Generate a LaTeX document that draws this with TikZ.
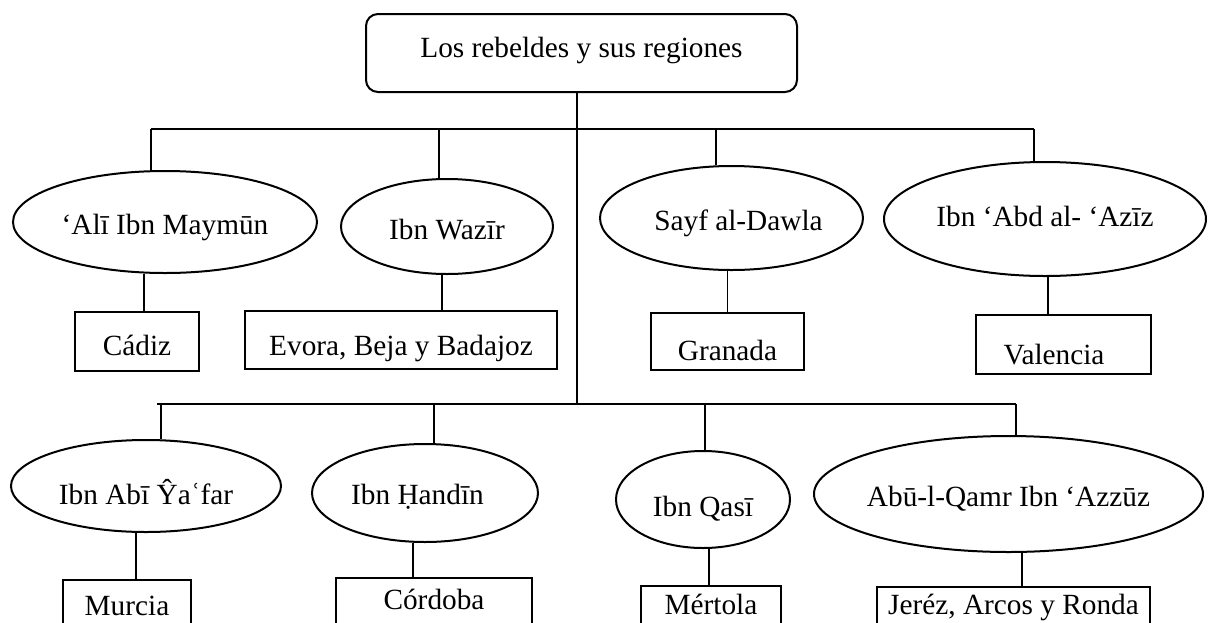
\documentclass[tikz,border=0pt]{standalone}
\usepackage{fontspec}
\setmainfont{Liberation Serif}
\usetikzlibrary{shapes.geometric}
\begin{document}
\begin{tikzpicture}[x=1pt,y=-1pt,
  font=\fontsize{29.3}{35}\selectfont,
  shapeline/.style={draw=black, line width=2pt},
  rootbox/.style={shapeline, rectangle, rounded corners=12pt, inner sep=0pt,
    text height=43pt, text depth=35pt, minimum width=431pt},
  rebel/.style={shapeline, ellipse, inner sep=0pt, text depth=0pt},
  region/.style={shapeline, rectangle, inner sep=0pt, anchor=base},
  link/.style={draw=black, line width=1.2pt},
]
\useasboundingbox (0,0) rectangle (1208,622);
\fill[white] (0,0) rectangle (1208,622);
\clip (0,0) rectangle (1208,622);

% title
\node[rootbox, anchor=base] (root) at (581.5,57) {Los rebeldes y sus regiones};

% first group of rebels
\node[rebel, minimum width=304pt, minimum height=102pt, text height=24.4pt] (e1) at (165,222) {‘Alī Ibn Maymūn};
\node[rebel, minimum width=212pt, minimum height=95pt, text height=25.4pt] (e2) at (447,226.5) {Ibn Wazīr};
\node[rebel, minimum width=263pt, minimum height=104pt, text height=25.4pt] (e3) at (731.5,218) {\hspace*{14pt}Sayf al-Dawla};
\node[rebel, minimum width=322pt, minimum height=114pt, text height=15.4pt] (e4) at (1045,219) {Ibn ‘Abd al- ‘Azīz};

\node[region, minimum width=124pt, text height=43pt, text depth=16pt] (cadiz) at (137,355) {Cádiz};
\node[region, minimum width=312pt, text height=44pt, text depth=14pt] (evora) at (401,355) {Evora, Beja y Badajoz};
\node[region, minimum width=153pt, text height=47pt, text depth=10pt] (granada) at (727.5,360) {Granada};
\node[region, minimum width=175pt, text height=49pt, text depth=10pt] (valencia) at (1063.5,364) {Valencia\hspace*{19pt}};

% second group of rebels
\node[rebel, minimum width=270pt, minimum height=92pt, text height=37.4pt] (e5) at (146,486) {Ibn Abī Ŷaʿfar};
\node[rebel, minimum width=226pt, minimum height=98pt, text height=22.4pt] (e6) at (425,493) {Ibn Ḥandīn\hspace*{15pt}};
\node[rebel, minimum width=174pt, minimum height=97pt, text height=34.8pt] (e7) at (703,499.5) {Ibn Qasī};
\node[rebel, minimum width=389pt, minimum height=116pt, text height=24.4pt, inner xsep=-6pt] (e8) at (1008.5,494) {Abū-l-Qamr Ibn ‘Azzūz};

\node[region, minimum width=128pt, text height=35pt, text depth=40pt] (murcia) at (127,615) {Murcia};
\node[region, minimum width=196pt, text height=31pt, text depth=40pt] (cordoba) at (434,609) {Córdoba};
\node[region, minimum width=140pt, text height=28pt, text depth=40pt] (mertola) at (711,614) {Mértola};
\node[region, minimum width=273pt, text height=27pt, text depth=40pt] (jerez) at (1013.5,614) {Jeréz, Arcos y Ronda};

% bus points
\coordinate (ub1) at (151,129);
\coordinate (ub2) at (439,129);
\coordinate (ub3) at (716,129);
\coordinate (ub4) at (1034,129);
\coordinate (lb0) at (157,404);
\coordinate (lb1) at (161,404);
\coordinate (lb2) at (434,404);
\coordinate (lb3) at (705,404);
\coordinate (lb4) at (1016,404);
\coordinate (trunk) at (577,404);

% vertical positions of the rebel-to-region links
\coordinate (k1) at (144,0);
\coordinate (k2) at (442,0);
\coordinate (k3) at (727.5,0);
\coordinate (k4) at (1048,0);
\coordinate (k5) at (136,0);
\coordinate (k6) at (413,0);
\coordinate (k7) at (709,0);
\coordinate (k8) at (1022,0);

% trunk and buses
\draw[link] (root.south -| trunk) -- (trunk);
\draw[link] (ub1) -- (ub4);
\draw[link] (lb0) -- (lb4);

% drops to the rebels
\draw[link] (ub1) -- (ub1 |- e1.north);
\draw[link] (ub2) -- (ub2 |- e2.north);
\draw[link] (ub3) -- (ub3 |- e3.north);
\draw[link] (ub4) -- (ub4 |- e4.north);
\draw[link] (lb1) -- (lb1 |- e5.north);
\draw[link] (lb2) -- (lb2 |- e6.north);
\draw[link] (lb3) -- (lb3 |- e7.north);
\draw[link] (lb4) -- (lb4 |- e8.north);

% rebels to their regions
\draw[link] (e1.south -| k1) -- (cadiz.north -| k1);
\draw[link] (e2.south -| k2) -- (evora.north -| k2);
\draw[link] (e3.south -| k3) -- (granada.north -| k3);
\draw[link] (e4.south -| k4) -- (valencia.north -| k4);
\draw[link] (e5.south -| k5) -- (murcia.north -| k5);
\draw[link] (e6.south -| k6) -- (cordoba.north -| k6);
\draw[link] (e7.south -| k7) -- (mertola.north -| k7);
\draw[link] (e8.south -| k8) -- (jerez.north -| k8);
\end{tikzpicture}
\end{document}
